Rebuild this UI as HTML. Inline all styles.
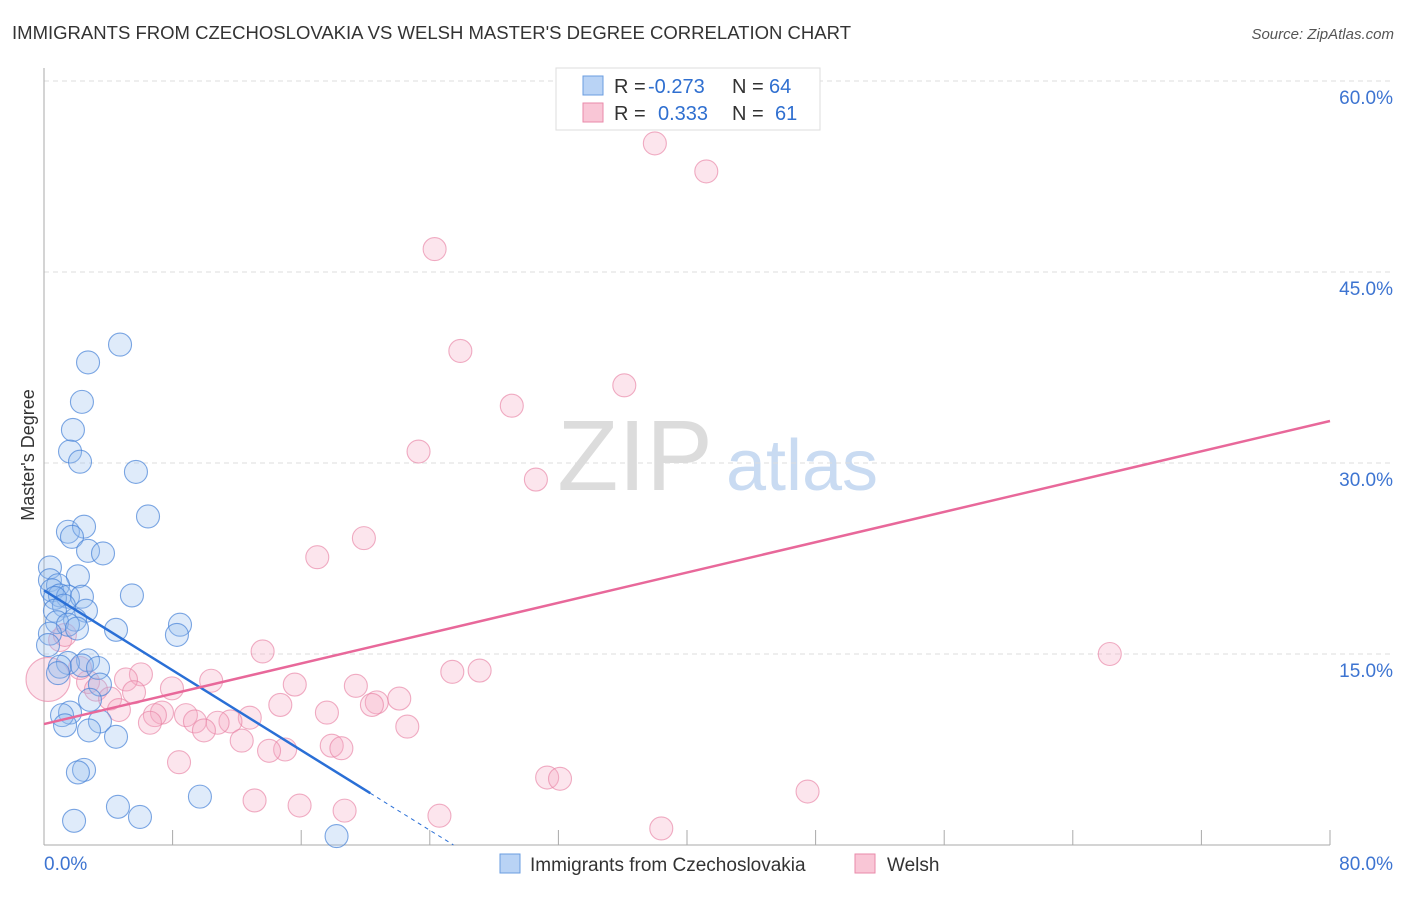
<!DOCTYPE html>
<html><head><meta charset="utf-8"><style>
body{margin:0;background:#fff;font-family:"Liberation Sans",sans-serif}
svg text{font-family:"Liberation Sans",sans-serif}
</style></head><body>
<svg id="chart" width="1406" height="892" viewBox="0 0 1406 892" xmlns="http://www.w3.org/2000/svg">
<text x="12" y="39" font-size="18" fill="#333" textLength="839" lengthAdjust="spacingAndGlyphs">IMMIGRANTS FROM CZECHOSLOVAKIA VS WELSH MASTER'S DEGREE CORRELATION CHART</text>
<text x="1394" y="39" font-size="15" fill="#555" text-anchor="end" font-style="italic">Source: ZipAtlas.com</text>
<text transform="translate(34,455) rotate(-90)" font-size="18" fill="#333" text-anchor="middle">Master's Degree</text>
<g>
<text x="635" y="490" font-size="100" fill="#dcdcdc" font-family="Liberation Serif,serif" text-anchor="middle">ZIP</text>
<text x="802" y="490" font-size="72" fill="#c9dbf2" text-anchor="middle">atlas</text>
</g>
<g id="grid"></g>
<g id="axes"></g>
<g id="points"></g>
<g id="lines"></g>
<g>
<rect x="556" y="68" width="264" height="62" fill="#fff" stroke="#ddd"/>
<rect x="583" y="76" width="20" height="19" fill="#b9d3f5" stroke="#6a9de0"/>
<rect x="583" y="103" width="20" height="19" fill="#f9c6d6" stroke="#e98aaa"/>
<text x="614" y="93" font-size="20" fill="#333">R = </text><text x="648" y="93" font-size="20" fill="#2f6fd0">-0.273</text>
<text x="732" y="93" font-size="20" fill="#333">N = </text><text x="769" y="93" font-size="20" fill="#2f6fd0">64</text>
<text x="614" y="120" font-size="20" fill="#333">R = </text><text x="658" y="120" font-size="20" fill="#2f6fd0">0.333</text>
<text x="732" y="120" font-size="20" fill="#333">N = </text><text x="775" y="120" font-size="20" fill="#2f6fd0">61</text>
</g>
<g>
<rect x="500" y="854" width="20" height="19" fill="#b9d3f5" stroke="#6a9de0"/>
<text x="530" y="871" font-size="19" fill="#333">Immigrants from Czechoslovakia</text>
<rect x="855" y="854" width="20" height="19" fill="#f9c6d6" stroke="#e98aaa"/>
<text x="887" y="871" font-size="19" fill="#333">Welsh</text>
</g>
</svg>
<script>
const yTicks=[15,30,45,60];
const yTickLabels=["15.0%","30.0%","45.0%","60.0%"];
const xTickLabels=["0.0%","80.0%"];
const czechX=[4.73,2.74,2.36,1.80,1.62,2.24,5.72,6.47,1.49,2.49,1.74,2.74,3.67,0.37,2.11,0.37,0.87,0.50,5.47,0.99,1.49,2.36,0.68,1.24,2.61,0.68,1.93,0.81,1.49,8.46,2.05,4.48,0.37,8.27,0.25,2.74,1.49,0.99,2.36,3.36,0.87,3.48,2.86,1.62,1.12,3.48,1.31,2.80,4.48,2.49,2.11,9.70,4.60,5.97,1.87,18.2];
const czechY=[39.3,37.9,34.8,32.6,30.9,30.1,29.3,25.8,24.6,25.0,24.2,23.1,22.9,21.8,21.1,20.8,20.4,20.0,19.6,19.6,19.5,19.5,19.4,18.8,18.4,18.4,17.7,17.5,17.3,17.3,17.0,16.9,16.6,16.5,15.7,14.5,14.3,14.0,14.1,13.9,13.5,12.6,11.4,10.4,10.2,9.7,9.4,9.0,8.5,5.9,5.7,3.8,3.0,2.2,1.9,0.7];
const welshX=[38.0,41.2,24.3,25.9,36.1,29.1,23.3,30.6,19.9,17.0,66.3,13.6,27.1,25.4,6.03,0.25,5.1,10.4,15.6,19.4,2.74,3.23,7.96,5.60,22.1,4.11,20.7,20.4,14.7,4.66,7.34,6.90,8.83,17.6,12.8,9.39,11.6,10.8,6.59,9.95,22.6,12.3,17.9,18.5,15.0,14.0,8.40,31.3,32.1,47.5,13.1,15.9,18.7,24.6,38.4,1.0,1.3,2.24];
const welshY=[55.1,52.9,46.8,38.8,36.1,34.5,30.9,28.7,24.1,22.6,15.0,15.2,13.7,13.6,13.4,13.0,13.0,12.9,12.6,12.5,12.8,12.2,12.3,12.0,11.5,11.5,11.2,11.0,11.0,10.6,10.4,10.2,10.2,10.4,10.0,9.7,9.7,9.6,9.6,9.0,9.3,8.2,7.8,7.6,7.5,7.4,6.5,5.3,5.2,4.2,3.5,3.1,2.7,2.3,1.3,16.1,16.5,13.9];
const czechTrend=[20.0,-0.785,20.3];
const welshTrend=[9.5,0.2975];
const NS="http://www.w3.org/2000/svg";
const X=v=>44+v/80*1286, Y=v=>845-v/15*191;
function mk(t,a,p){const e=document.createElementNS(NS,t);for(const k in a)e.setAttribute(k,a[k]);p.appendChild(e);return e;}
const grid=document.getElementById('grid'),axes=document.getElementById('axes'),pts=document.getElementById('points'),lines=document.getElementById('lines');
yTicks.forEach((t,i)=>{
 const l=mk('line',{x1:44,x2:1393,y1:Y(t),y2:Y(t),stroke:'#ddd','stroke-dasharray':'5,4'},grid);
 
 
 const tx=mk('text',{x:1393,y:Y(t)+23,'font-size':19,fill:'#3d74d1','text-anchor':'end'},axes);tx.textContent=yTickLabels[i];
 
 
});
const ax=mk('line',{x1:44,x2:1330,y1:845,y2:845,stroke:'#aaa'},axes);


const ay=mk('line',{x1:44,x2:44,y1:68,y2:845,stroke:'#aaa'},axes);


for(let i=1;i<=10;i++){const tk=mk('line',{x1:X(i*8),x2:X(i*8),y1:830,y2:845,stroke:'#aaa'},axes);
 
 }
const xl0=mk('text',{x:44,y:870,'font-size':19,fill:'#3d74d1'},axes);xl0.textContent=xTickLabels[0];


const xl1=mk('text',{x:1393,y:870,'font-size':19,fill:'#3d74d1','text-anchor':'end'},axes);xl1.textContent=xTickLabels[1];


welshX.forEach((v,i)=>{const r=(i===15)?22:11.5;
 const c=mk('circle',{cx:X(v),cy:Y(welshY[i]),r:r,fill:'rgba(246,170,195,0.3)',stroke:'rgba(232,130,165,0.65)','stroke-width':1.1},pts);
 
 });
czechX.forEach((v,i)=>{
 const c=mk('circle',{cx:X(v),cy:Y(czechY[i]),r:11.5,fill:'rgba(150,190,240,0.3)',stroke:'rgba(70,130,215,0.7)','stroke-width':1.1},pts);
 
 });
const [bi,bs,be]=czechTrend;
const bl=mk('line',{x1:X(0),y1:Y(bi),x2:X(be),y2:Y(bi+bs*be),stroke:'#2a6fd6','stroke-width':2.5},lines);


const bz=-bi/bs;
const bd=mk('line',{x1:X(be),y1:Y(bi+bs*be),x2:X(bz),y2:Y(0),stroke:'#2a6fd6','stroke-width':1,'stroke-dasharray':'4,4'},lines);


const pl=mk('line',{x1:X(0),y1:Y(welshTrend[0]),x2:X(80),y2:Y(welshTrend[0]+welshTrend[1]*80),stroke:'#e8689a','stroke-width':2.5},lines);


</script>
</body></html>
